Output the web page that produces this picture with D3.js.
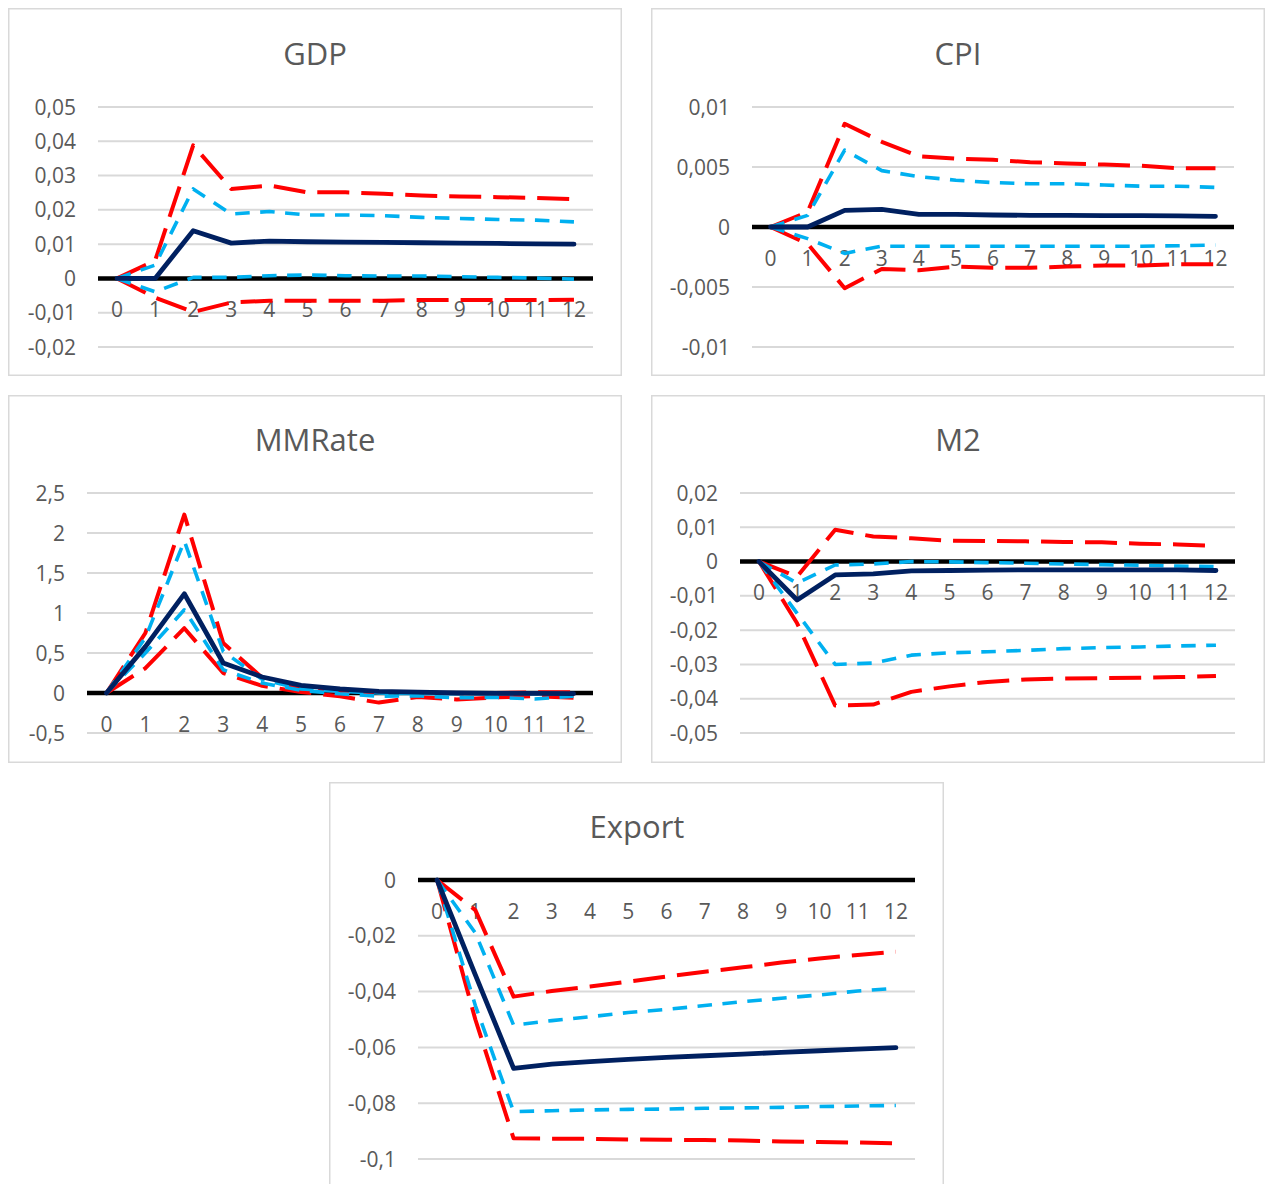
<!DOCTYPE html>
<html><head><meta charset="utf-8">
<script src="https://cdn.jsdelivr.net/npm/d3@7"></script>
<style>
body{margin:0;background:#fff;}
svg{display:block;font-family:"Open Sans","Noto Sans",sans-serif;}
</style>
</head><body>
<svg id="c" width="1270" height="1184"></svg>
<script>
const categories = ["0","1","2","3","4","5","6","7","8","9","10","11","12"];

const gdpIrf  = [0, 0, 0.0139, 0.0103, 0.0109, 0.0107, 0.0106, 0.0105, 0.0104, 0.0103, 0.0102, 0.0101, 0.0100];
const gdpUp95 = [0, 0.0052, 0.0388, 0.0261, 0.0271, 0.0251, 0.0251, 0.0247, 0.0242, 0.0239, 0.0237, 0.0235, 0.0231];
const gdpUp68 = [0, 0.0039, 0.0261, 0.0188, 0.0195, 0.0185, 0.0185, 0.0183, 0.0178, 0.0175, 0.0172, 0.0170, 0.0165];
const gdpLo68 = [0, -0.0039, 0.0003, 0.0003, 0.0008, 0.0010, 0.0008, 0.0007, 0.0007, 0.0005, 0.0003, 0.0001, -0.0002];
const gdpLo95 = [0, -0.0056, -0.0098, -0.0070, -0.0065, -0.0065, -0.0065, -0.0065, -0.0063, -0.0063, -0.0063, -0.0063, -0.0062];
const gdpTicks = [-0.02, -0.01, 0, 0.01, 0.02, 0.03, 0.04, 0.05];

const cpiIrf  = [0, 0, 0.00139, 0.00147, 0.00106, 0.00106, 0.00100, 0.00097, 0.00097, 0.00094, 0.00094, 0.00092, 0.00089];
const cpiUp95 = [0, 0.00125, 0.0086, 0.0071, 0.0059, 0.0057, 0.0056, 0.0054, 0.0053, 0.0052, 0.0051, 0.0049, 0.0049];
const cpiUp68 = [0, 0.00097, 0.0064, 0.0047, 0.0042, 0.0039, 0.0037, 0.0036, 0.0036, 0.0035, 0.0034, 0.0034, 0.0033];
const cpiLo68 = [0, -0.00097, -0.0022, -0.0016, -0.0016, -0.0016, -0.0016, -0.0016, -0.0016, -0.0016, -0.0016, -0.00156, -0.0015];
const cpiLo95 = [0, -0.0014, -0.0051, -0.0035, -0.0036, -0.0033, -0.0034, -0.0034, -0.0033, -0.0032, -0.0032, -0.0031, -0.0031];
const cpiTicks = [-0.01, -0.005, 0, 0.005, 0.01];

const mmIrf  = [0, 0.58, 1.24, 0.375, 0.20, 0.096, 0.05, 0.02, 0.012, 0, -0.004, -0.004, -0.008];
const mmUp95 = [0, 0.75, 2.23, 0.625, 0.19, 0.06, 0.02, 0.008, 0.008, 0, 0, 0.008, 0.008];
const mmUp68 = [0, 0.69, 1.90, 0.52, 0.17, 0.05, 0.02, 0, -0.008, -0.008, -0.008, -0.008, -0.008];
const mmLo68 = [0, 0.50, 1.04, 0.29, 0.125, 0.033, -0.01, -0.04, -0.035, -0.06, -0.055, -0.075, -0.04];
const mmLo95 = [0, 0.31, 0.81, 0.25, 0.09, 0.012, -0.04, -0.12, -0.05, -0.08, -0.055, -0.04, -0.06];
const mmTicks = [-0.5, 0, 0.5, 1, 1.5, 2, 2.5];

const m2Irf  = [0, -0.0112, -0.0039, -0.0036, -0.0027, -0.0026, -0.0025, -0.0024, -0.0024, -0.0024, -0.0024, -0.0024, -0.0026];
const m2Up95 = [0, -0.0044, 0.0093, 0.0073, 0.0068, 0.0061, 0.0060, 0.0059, 0.0057, 0.0056, 0.0052, 0.0050, 0.0046];
const m2Up68 = [0, -0.0063, -0.0010, -0.0007, 0, -0.0001, -0.0003, -0.0005, -0.0007, -0.0009, -0.0011, -0.0013, -0.0015];
const m2Lo68 = [0, -0.0151, -0.0300, -0.0296, -0.0273, -0.0266, -0.0263, -0.0259, -0.0254, -0.0251, -0.0249, -0.0246, -0.0244];
const m2Lo95 = [0, -0.0180, -0.0420, -0.0417, -0.0380, -0.0364, -0.0351, -0.0344, -0.0341, -0.0340, -0.0339, -0.0337, -0.0334];
const m2Ticks = [-0.05, -0.04, -0.03, -0.02, -0.01, 0, 0.01, 0.02];

const exIrf  = [0, -0.034, -0.0675, -0.0660, -0.0651, -0.0643, -0.0636, -0.0630, -0.0624, -0.0618, -0.0612, -0.0606, -0.0601];
const exUp95 = [0, -0.0108, -0.0418, -0.0398, -0.0382, -0.0364, -0.0346, -0.0329, -0.0313, -0.0296, -0.0281, -0.0269, -0.0257];
const exUp68 = [0, -0.019, -0.0520, -0.0504, -0.0490, -0.0475, -0.0464, -0.0450, -0.0436, -0.0424, -0.0412, -0.0398, -0.0388];
const exLo68 = [0, -0.045, -0.0830, -0.0827, -0.0824, -0.0822, -0.0821, -0.0818, -0.0817, -0.0815, -0.0812, -0.0810, -0.0808];
const exLo95 = [0, -0.050, -0.0926, -0.0927, -0.0928, -0.0930, -0.0931, -0.0932, -0.0934, -0.0937, -0.0939, -0.0941, -0.0944];
const exTicks = [-0.1, -0.08, -0.06, -0.04, -0.02, 0];

const panels = [
  {title:"GDP", irf:gdpIrf, up95:gdpUp95, up68:gdpUp68, lo68:gdpLo68, lo95:gdpLo95, ticks:gdpTicks,
   box:[8,8,614,368], px:[98,593], py:[347,107], tx:315, ty:65},
  {title:"CPI", irf:cpiIrf, up95:cpiUp95, up68:cpiUp68, lo68:cpiLo68, lo95:cpiLo95, ticks:cpiTicks,
   box:[651,8,614,368], px:[752,1234], py:[347,107], tx:958, ty:65},
  {title:"MMRate", irf:mmIrf, up95:mmUp95, up68:mmUp68, lo68:mmLo68, lo95:mmLo95, ticks:mmTicks,
   box:[8,395,614,368], px:[87,593], py:[733,493], tx:315, ty:451},
  {title:"M2", irf:m2Irf, up95:m2Up95, up68:m2Up68, lo68:m2Lo68, lo95:m2Lo95, ticks:m2Ticks,
   box:[651,395,614,368], px:[740,1235], py:[733,493], tx:958, ty:451},
  {title:"Export", irf:exIrf, up95:exUp95, up68:exUp68, lo68:exLo68, lo95:exLo95, ticks:exTicks,
   box:[329,782,615,430], px:[418,915], py:[1159,880], tx:637, ty:838}
];

const fmt = v => String(+v.toFixed(6)).replace(".", ",");
const svg = d3.select("#c");
const textCol = "#595959";

panels.forEach(p => {
  const g = svg.append("g");
  g.append("rect").attr("x", p.box[0] + 0.75).attr("y", p.box[1] + 0.75)
    .attr("width", p.box[2] - 1.5).attr("height", p.box[3] - 1.5)
    .attr("fill", "#fff").attr("stroke", "#d9d9d9").attr("stroke-width", 1.5);

  const x = d3.scaleBand().domain(categories).range(p.px);
  const y = d3.scaleLinear().domain(d3.extent(p.ticks)).range(p.py);

  g.append("text").attr("x", p.tx).attr("y", p.ty).attr("text-anchor", "middle")
    .attr("font-size", 31).attr("fill", textCol).text(p.title);

  // gridlines
  g.selectAll(".grid").data(p.ticks.filter(t => t !== 0)).enter().append("line")
    .attr("x1", p.px[0]).attr("x2", p.px[1])
    .attr("y1", d => y(d)).attr("y2", d => y(d))
    .attr("stroke", "#d9d9d9").attr("stroke-width", 2);

  // y tick labels
  g.selectAll(".yl").data(p.ticks).enter().append("text")
    .attr("x", p.px[0] - 22).attr("y", d => y(d)).attr("dy", "0.36em")
    .attr("text-anchor", "end").attr("font-size", 21).attr("fill", textCol)
    .text(fmt);

  // zero axis line
  g.append("line").attr("x1", p.px[0]).attr("x2", p.px[1])
    .attr("y1", y(0)).attr("y2", y(0)).attr("stroke", "#000").attr("stroke-width", 4.5);

  // category labels
  g.selectAll(".xl").data(categories).enter().append("text")
    .attr("x", d => x(d) + x.bandwidth() / 2).attr("y", y(0) + 38.5)
    .attr("text-anchor", "middle").attr("font-size", 21).attr("fill", textCol)
    .text(d => d);

  const line = d3.line().x((d, i) => x(categories[i]) + x.bandwidth() / 2).y(d => y(d));
  const series = [
    {d:p.lo95, c:"#ff0000", w:4, dash:"32,12", cap:"butt"},
    {d:p.up95, c:"#ff0000", w:4, dash:"32,12", cap:"butt"},
    {d:p.lo68, c:"#00b0f0", w:3.6, dash:"14.5,10.5", cap:"butt"},
    {d:p.up68, c:"#00b0f0", w:3.6, dash:"14.5,10.5", cap:"butt"},
    {d:p.irf, c:"#002060", w:4.8, dash:null, cap:"round"}
  ];
  series.forEach(s => {
    g.append("path").attr("d", line(s.d)).attr("fill", "none")
      .attr("stroke", s.c).attr("stroke-width", s.w)
      .attr("stroke-dasharray", s.dash).attr("stroke-linecap", s.cap)
      .attr("stroke-linejoin", "round");
  });
});
</script>
</body></html>
